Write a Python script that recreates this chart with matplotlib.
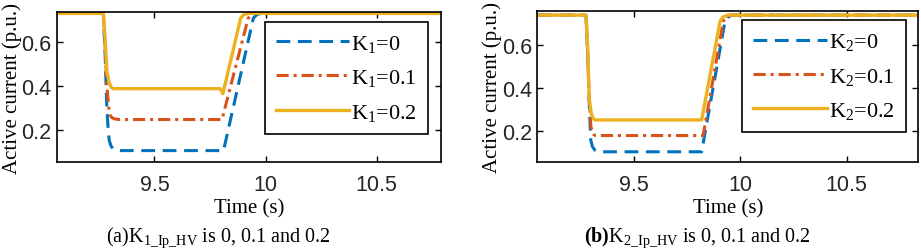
import matplotlib
matplotlib.use("Agg")
import matplotlib.pyplot as plt

plt.rcParams['mathtext.fontset'] = 'custom'
plt.rcParams['mathtext.rm'] = 'Liberation Serif'
plt.rcParams['mathtext.it'] = 'Liberation Serif:italic'
plt.rcParams['mathtext.bf'] = 'Liberation Serif:bold'

# (a) K1_Ip_HV sweep
t_a0 = [9.05, 9.27, 9.278, 9.286, 9.292, 9.297, 9.305, 9.315, 9.33, 9.35, 9.811, 9.945, 9.96, 9.98, 10.85]
i_a0 = [0.732, 0.732, 0.55, 0.30, 0.20, 0.15, 0.125, 0.113, 0.107, 0.105, 0.105, 0.71, 0.726, 0.732, 0.732]
t_a1 = [9.05, 9.27, 9.278, 9.286, 9.295, 9.302, 9.308, 9.32, 9.34, 9.804, 9.922, 9.935, 9.955, 10.85]
i_a1 = [0.732, 0.732, 0.58, 0.40, 0.30, 0.265, 0.256, 0.25, 0.247, 0.247, 0.71, 0.725, 0.732, 0.732]
t_a2 = [9.05, 9.27, 9.278, 9.286, 9.295, 9.305, 9.315, 9.796, 9.808, 9.888, 9.90, 9.92, 10.85]
i_a2 = [0.732, 0.732, 0.62, 0.47, 0.42, 0.395, 0.388, 0.388, 0.365, 0.71, 0.725, 0.732, 0.732]

# (b) K2_Ip_HV sweep
t_b0 = [9.05, 9.275, 9.283, 9.29, 9.297, 9.305, 9.315, 9.33, 9.35, 9.818, 9.928, 9.94, 9.96, 10.85]
i_b0 = [0.737, 0.737, 0.55, 0.33, 0.16, 0.13, 0.115, 0.108, 0.106, 0.106, 0.71, 0.727, 0.737, 0.737]
t_b1 = [9.05, 9.275, 9.283, 9.29, 9.298, 9.309, 9.32, 9.825, 9.92, 9.932, 9.95, 10.85]
i_b1 = [0.737, 0.737, 0.55, 0.35, 0.22, 0.187, 0.181, 0.181, 0.71, 0.728, 0.737, 0.737]
t_b2 = [9.05, 9.275, 9.283, 9.29, 9.30, 9.31, 9.317, 9.818, 9.905, 9.918, 9.94, 10.85]
i_b2 = [0.737, 0.737, 0.58, 0.35, 0.28, 0.258, 0.253, 0.253, 0.71, 0.728, 0.737, 0.737]

labels_a = [r'K$_\mathrm{1}$=0', r'K$_\mathrm{1}$=0.1', r'K$_\mathrm{1}$=0.2']
labels_b = [r'K$_\mathrm{2}$=0', r'K$_\mathrm{2}$=0.1', r'K$_\mathrm{2}$=0.2']
captions = [r'(a)K$_\mathrm{1\_Ip\_HV}$ is 0, 0.1 and 0.2',
            r'$\mathbf{(b)}$K$_\mathrm{2\_Ip\_HV}$ is 0, 0.1 and 0.2']
xticks = [9.5, 10, 10.5]
yticks = [0.2, 0.4, 0.6]

colors = ['#0072BD', '#D95319', '#EDB120']
styles = [dict(ls=(0, (4.5, 2.5)), lw=2.2),
          dict(ls=(0, (4, 1.6, 1, 1.6)), lw=2.2),
          dict(ls='-', lw=2.4)]

fig = plt.figure(figsize=(9.21, 2.51), dpi=100)
ax1 = fig.add_axes([0.0622, 0.349, 0.4163, 0.598])
ax2 = fig.add_axes([0.5834, 0.349, 0.4137, 0.604])

panels = [
    (ax1, [(t_a0, i_a0), (t_a1, i_a1), (t_a2, i_a2)], labels_a, (9.063, 10.788), (0.051, 0.737)),
    (ax2, [(t_b0, i_b0), (t_b1, i_b1), (t_b2, i_b2)], labels_b, (9.046, 10.836), (0.057, 0.757)),
]

serif = 'Liberation Serif'
for ax, series, labels, xl, yl in panels:
    for (t, i), lab, c, st in zip(series, labels, colors, styles):
        ax.plot(t, i, color=c, label=lab, **st)
    ax.set_xlim(*xl)
    ax.set_ylim(*yl)
    ax.set_xticks(xticks)
    ax.set_xticklabels(['9.5', '10', '10.5'])
    ax.set_yticks(yticks)
    ax.tick_params(direction='in', top=True, right=True, length=4, width=1,
                   labelsize=15.5)
    ax.tick_params(axis='x', pad=8)
    ax.tick_params(axis='y', pad=4)
    for lbl in ax.get_xticklabels() + ax.get_yticklabels():
        lbl.set_family('Liberation Sans')
        lbl.set_color('#262626')
    for s in ax.spines.values():
        s.set_linewidth(1.2)
    ax.set_xlabel('Time (s)', family=serif, fontsize=15, labelpad=3)
    ax.set_ylabel('Active current (p.u.)', family=serif, fontsize=15, labelpad=0)
    leg = ax.legend(loc='upper right', bbox_to_anchor=(0.967, 0.937),
                    prop={'family': serif, 'size': 16}, handlelength=3.3,
                    handletextpad=0.1, labelspacing=0.6, borderpad=0.5,
                    fancybox=False, framealpha=1, edgecolor='black',
                    borderaxespad=0)
    leg.get_frame().set_linewidth(1.2)

fig.text(218 / 921, 1 - 238 / 251, captions[0], family=serif, fontsize=14.5,
         ha='center', va='center')
fig.text(697 / 921, 1 - 238 / 251, captions[1], family=serif, fontsize=14.5,
         ha='center', va='center')

fig.savefig('out.png', dpi=100)
